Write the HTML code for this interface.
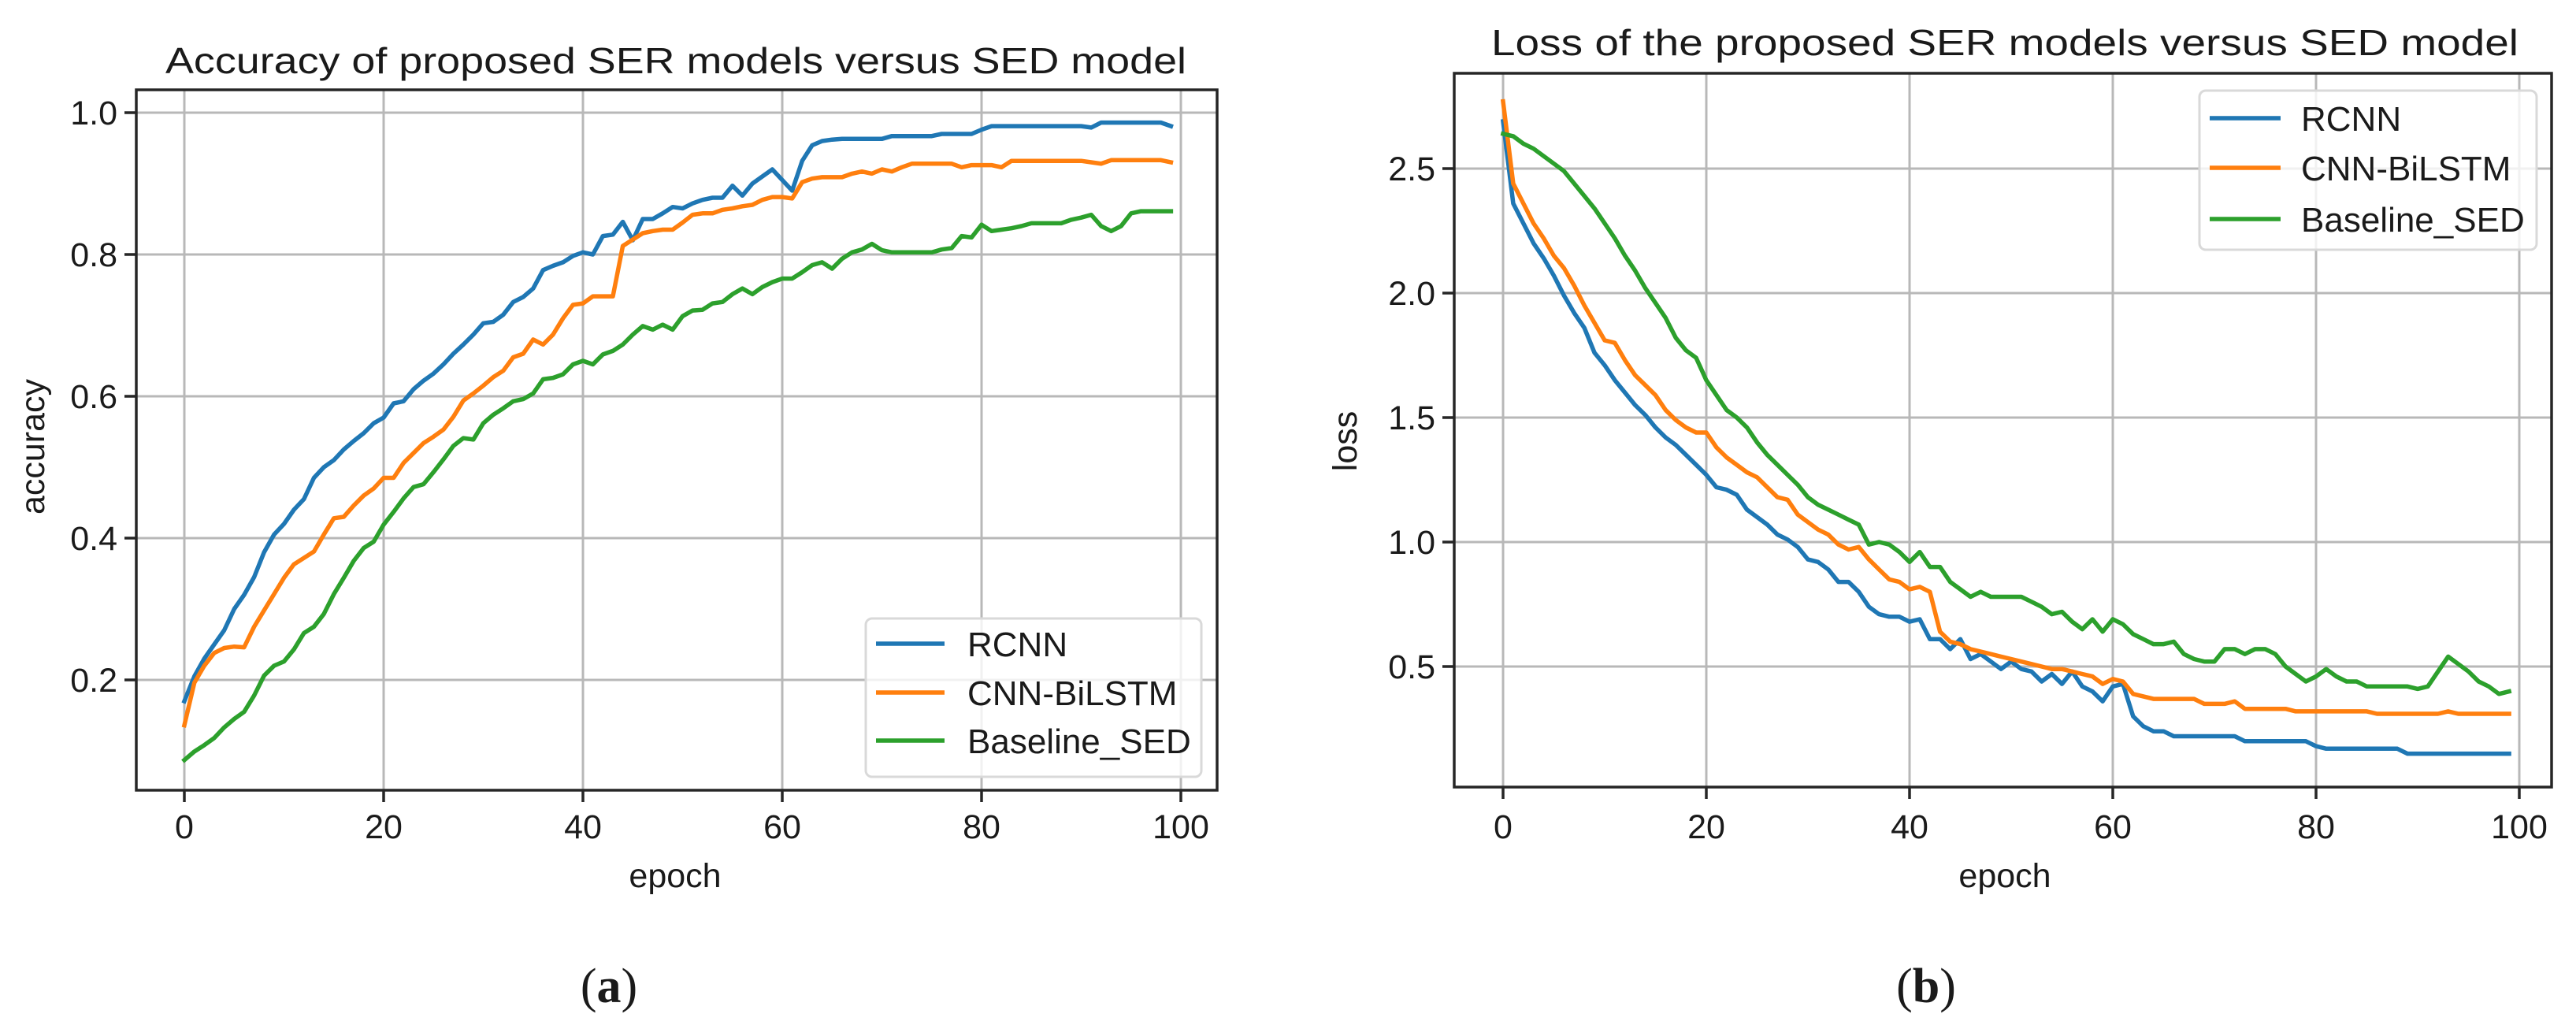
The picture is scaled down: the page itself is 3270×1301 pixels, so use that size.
<!DOCTYPE html>
<html><head><meta charset="utf-8"><style>
html,body{margin:0;padding:0;background:#fff;}
svg{display:block;}
text{font-family:"Liberation Sans","DejaVu Sans",sans-serif;fill:#1a1a1a;}
</style></head><body>
<svg id="fig" width="3270" height="1301" viewBox="0 0 3270 1301" xmlns="http://www.w3.org/2000/svg">
<rect x="0" y="0" width="3270" height="1301" fill="#fff"/>
<g id="chartA"></g>
<g id="chartB"></g>
<text x="773" y="1272" text-anchor="middle" font-size="62" style="font-family:'Liberation Serif',serif">(<tspan font-weight="bold">a</tspan>)</text>
<text x="2445" y="1272" text-anchor="middle" font-size="62" style="font-family:'Liberation Serif',serif">(<tspan font-weight="bold">b</tspan>)</text>
</svg>
<script>
const seriesNames = ["RCNN","CNN-BiLSTM","Baseline_SED"];
const accRCNN = [0.170,0.205,0.23,0.25,0.27,0.30,0.32,0.345,0.38,0.405,0.42,0.44,0.455,0.485,0.50,0.51,0.525,0.537,0.548,0.562,0.57,0.59,0.593,0.61,0.622,0.632,0.645,0.66,0.673,0.687,0.703,0.705,0.715,0.733,0.74,0.752,0.778,0.784,0.789,0.798,0.803,0.80,0.826,0.828,0.846,0.82,0.85,0.85,0.858,0.867,0.865,0.872,0.877,0.88,0.88,0.897,0.883,0.90,0.91,0.92,0.905,0.89,0.932,0.954,0.96,0.962,0.963,0.963,0.963,0.963,0.963,0.967,0.967,0.967,0.967,0.967,0.97,0.97,0.97,0.97,0.976,0.981,0.981,0.981,0.981,0.981,0.981,0.981,0.981,0.981,0.981,0.979,0.986,0.986,0.986,0.986,0.986,0.986,0.986,0.981];
const accCNN = [0.136,0.196,0.22,0.238,0.245,0.247,0.246,0.275,0.298,0.321,0.344,0.363,0.372,0.381,0.405,0.428,0.43,0.446,0.46,0.47,0.485,0.485,0.506,0.52,0.534,0.543,0.553,0.571,0.594,0.604,0.615,0.627,0.636,0.655,0.66,0.68,0.673,0.687,0.71,0.729,0.731,0.741,0.741,0.741,0.812,0.821,0.83,0.833,0.835,0.835,0.845,0.856,0.858,0.858,0.863,0.865,0.868,0.87,0.877,0.881,0.881,0.879,0.902,0.907,0.909,0.909,0.909,0.914,0.917,0.914,0.92,0.917,0.923,0.928,0.928,0.928,0.928,0.928,0.923,0.926,0.926,0.926,0.923,0.932,0.932,0.932,0.932,0.932,0.932,0.932,0.932,0.93,0.928,0.933,0.933,0.933,0.933,0.933,0.933,0.93];
const accSED = [0.087,0.099,0.108,0.118,0.133,0.145,0.155,0.178,0.206,0.22,0.226,0.243,0.266,0.275,0.293,0.321,0.344,0.368,0.386,0.395,0.419,0.437,0.456,0.472,0.476,0.493,0.511,0.53,0.541,0.539,0.562,0.574,0.583,0.593,0.596,0.604,0.624,0.626,0.631,0.645,0.65,0.645,0.659,0.664,0.673,0.687,0.699,0.694,0.701,0.694,0.713,0.721,0.722,0.731,0.733,0.744,0.752,0.744,0.754,0.761,0.766,0.766,0.775,0.785,0.789,0.78,0.794,0.803,0.807,0.815,0.806,0.803,0.803,0.803,0.803,0.803,0.807,0.809,0.826,0.824,0.842,0.833,0.835,0.837,0.84,0.844,0.844,0.844,0.844,0.849,0.852,0.856,0.84,0.833,0.84,0.858,0.861,0.861,0.861,0.861];
const lossRCNN = [2.69,2.36,2.28,2.2,2.14,2.07,1.99,1.92,1.86,1.76,1.71,1.65,1.6,1.55,1.51,1.46,1.42,1.39,1.35,1.31,1.27,1.22,1.21,1.19,1.13,1.1,1.07,1.03,1.01,0.98,0.93,0.92,0.89,0.84,0.84,0.8,0.74,0.71,0.70,0.70,0.68,0.69,0.61,0.61,0.57,0.61,0.53,0.55,0.52,0.49,0.52,0.49,0.48,0.44,0.47,0.43,0.48,0.42,0.4,0.36,0.42,0.43,0.3,0.26,0.24,0.24,0.22,0.22,0.22,0.22,0.22,0.22,0.22,0.2,0.2,0.2,0.2,0.2,0.2,0.2,0.18,0.17,0.17,0.17,0.17,0.17,0.17,0.17,0.17,0.15,0.15,0.15,0.15,0.15,0.15,0.15,0.15,0.15,0.15,0.15];
const lossCNN = [2.77,2.44,2.36,2.28,2.22,2.15,2.1,2.03,1.95,1.88,1.81,1.8,1.73,1.67,1.63,1.59,1.53,1.49,1.46,1.44,1.44,1.38,1.34,1.31,1.28,1.26,1.22,1.18,1.17,1.11,1.08,1.05,1.03,0.99,0.97,0.98,0.93,0.89,0.85,0.84,0.81,0.82,0.8,0.64,0.6,0.59,0.57,0.56,0.55,0.54,0.53,0.52,0.51,0.5,0.49,0.49,0.48,0.47,0.46,0.43,0.45,0.44,0.39,0.38,0.37,0.37,0.37,0.37,0.37,0.35,0.35,0.35,0.36,0.33,0.33,0.33,0.33,0.33,0.32,0.32,0.32,0.32,0.32,0.32,0.32,0.32,0.31,0.31,0.31,0.31,0.31,0.31,0.31,0.32,0.31,0.31,0.31,0.31,0.31,0.31];
const lossSED = [2.64,2.63,2.6,2.58,2.55,2.52,2.49,2.44,2.39,2.34,2.28,2.22,2.15,2.09,2.02,1.96,1.9,1.82,1.77,1.74,1.65,1.59,1.53,1.5,1.46,1.4,1.35,1.31,1.27,1.23,1.18,1.15,1.13,1.11,1.09,1.07,0.99,1.0,0.99,0.96,0.92,0.96,0.9,0.9,0.84,0.81,0.78,0.8,0.78,0.78,0.78,0.78,0.76,0.74,0.71,0.72,0.68,0.65,0.69,0.64,0.69,0.67,0.63,0.61,0.59,0.59,0.6,0.55,0.53,0.52,0.52,0.57,0.57,0.55,0.57,0.57,0.55,0.5,0.47,0.44,0.46,0.49,0.46,0.44,0.44,0.42,0.42,0.42,0.42,0.42,0.41,0.42,0.48,0.54,0.51,0.48,0.44,0.42,0.39,0.4];
const xTicks = [0,20,40,60,80,100];
const accTicks = [0.2,0.4,0.6,0.8,1.0];
const accTickLabels = ["0.2","0.4","0.6","0.8","1.0"];
const lossTicks = [0.5,1.0,1.5,2.0,2.5];
const lossTickLabels = ["0.5","1.0","1.5","2.0","2.5"];
const colors = ["#1f77b4","#ff7f0e","#2ca02c"];
const NS="http://www.w3.org/2000/svg";
function mk(tag, attrs, parent){const e=document.createElementNS(NS,tag);for(const k in attrs)e.setAttribute(k,attrs[k]);parent.appendChild(e);return e;}

function drawChart(g, cfg){
  const xs=e=>cfg.x0+e*cfg.xs;
  const ys=v=>cfg.yRef+(cfg.vRef-v)*cfg.ys;
  // grid
  xTicks.forEach(t=>{const l=mk('line',{x1:xs(t),x2:xs(t),y1:cfg.top,y2:cfg.bottom,stroke:'#b8b8b8','stroke-width':3},g);
    
    });
  cfg.yTicks.forEach(t=>{const l=mk('line',{x1:cfg.left,x2:cfg.right,y1:ys(t),y2:ys(t),stroke:'#b8b8b8','stroke-width':3},g);
    
    });
  // series
  cfg.series.forEach((arr,i)=>{
    const p=mk('polyline',{points:arr.map((v,e)=>xs(e).toFixed(1)+','+ys(v).toFixed(1)).join(' '),fill:'none',stroke:colors[i],'stroke-width':5.5,'stroke-linejoin':'round','stroke-linecap':'square'},g);
    
    
  });
  // spines
  const r=mk('rect',{x:cfg.left,y:cfg.top,width:cfg.right-cfg.left,height:cfg.bottom-cfg.top,fill:'none',stroke:'#262626','stroke-width':3.5},g);
  
  
  // x ticks
  xTicks.forEach(t=>{
    mk('line',{x1:xs(t),x2:xs(t),y1:cfg.bottom,y2:cfg.bottom+15,stroke:'#262626','stroke-width':3.5},g);
    const tx=mk('text',{x:xs(t),y:1064,'text-anchor':'middle','font-size':43},g);
    tx.textContent=t;
    
    
  });
  cfg.yTicks.forEach((t,i)=>{
    mk('line',{x1:cfg.left-15,x2:cfg.left,y1:ys(t),y2:ys(t),stroke:'#262626','stroke-width':3.5},g);
    const tx=mk('text',{x:cfg.left-24,y:ys(t)+15,'text-anchor':'end','font-size':43},g);
    tx.textContent=cfg.yLabels[i];
    
    
  });
  const ti=mk('text',{x:cfg.titleX,y:cfg.titleY,'text-anchor':'middle','font-size':46,textLength:cfg.titleW,lengthAdjust:'spacingAndGlyphs'},g);
  ti.textContent=cfg.title;
  
  
  const xl=mk('text',{x:cfg.xlabX,y:1126,'text-anchor':'middle','font-size':43},g);
  xl.textContent='epoch';
  
  
  const yl=mk('text',{x:0,y:0,'text-anchor':'middle','font-size':43,transform:`translate(${cfg.ylabX},${cfg.ylabY}) rotate(-90)`},g);
  yl.textContent=cfg.ylab;
  
  
  // legend
  const L=cfg.legend;
  const lg=mk('g',{},g);
  
  
  mk('rect',{x:L.x,y:L.y,width:L.w,height:L.h,rx:8,fill:'#fff','fill-opacity':0.8,stroke:'#d9d9d9','stroke-width':3},lg);
  seriesNames.forEach((n,i)=>{
    const ry=L.rows[i];
    const ent=mk('g',{},lg);
    
    
    mk('line',{x1:L.lx1,x2:L.lx2,y1:ry,y2:ry,stroke:colors[i],'stroke-width':5.5},ent);
    const t=mk('text',{x:L.tx,y:ry+16,'font-size':44},ent);
    t.textContent=n;
  });
}
drawChart(document.getElementById('chartA'),{
  left:173,right:1545,top:114,bottom:1003,x0:234,xs:12.65,yRef:143,vRef:1.0,ys:900,
  yTicks:accTicks,yLabels:accTickLabels,series:[accRCNN,accCNN,accSED],
  title:'Accuracy of proposed SER models versus SED model',titleX:858,titleY:93,titleW:1296,
  xlabX:857,ylab:'accuracy',ylabX:56,ylabY:567,
  legend:{x:1099,y:785,w:426,h:201,lx1:1112,lx2:1199,tx:1228,rows:[817,879,940]}
});
drawChart(document.getElementById('chartB'),{
  left:1846,right:3239,top:93,bottom:999,x0:1908,xs:12.9,yRef:214,vRef:2.5,ys:316,
  yTicks:lossTicks,yLabels:lossTickLabels,series:[lossRCNN,lossCNN,lossSED],
  title:'Loss of the proposed SER models versus SED model',titleX:2545,titleY:70,titleW:1304,
  xlabX:2545,ylab:'loss',ylabX:1722,ylabY:560,
  legend:{x:2792,y:115,w:428,h:202,lx1:2805,lx2:2895,tx:2921,rows:[150,213,278]}
});
</script>
</body></html>
